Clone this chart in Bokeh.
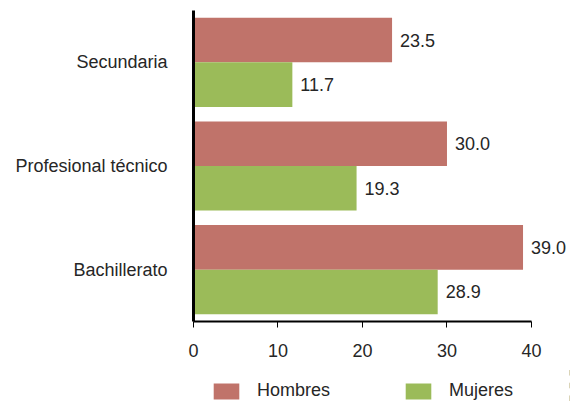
from bokeh.plotting import figure
from bokeh.layouts import column
from bokeh.models import ColumnDataSource, FactorRange, Range1d, Legend, LegendItem, FixedTicker
from bokeh.transform import dodge
from bokeh.core.properties import value
from bokeh.embed import file_html
from bokeh.resources import INLINE

categories = ["Secundaria", "Profesional técnico", "Bachillerato"]
hombres = [23.5, 30.0, 39.0]
mujeres = [11.7, 19.3, 28.9]
x_ticks = [0, 10, 20, 30, 40]
series_names = ["Hombres", "Mujeres"]

FONT = "Liberation Sans"
TXT = "#262626"
C_H = "#c0736a"
C_M = "#9bbb59"

src = ColumnDataSource(dict(
    cat=categories, h=hombres, m=mujeres,
    hl=["%.1f" % v for v in hombres], ml=["%.1f" % v for v in mujeres],
))

p = figure(width=571, height=366, output_backend="svg", toolbar_location=None,
           y_range=FactorRange(factors=categories[::-1]), x_range=Range1d(0, 44.5),
           min_border_left=193, min_border_right=2, min_border_top=10, min_border_bottom=45)
p.outline_line_color = None
p.grid.grid_line_color = None

bh = 0.43
p.hbar(y=dodge("cat", bh / 2, range=p.y_range), right="h", left=0, height=bh,
       source=src, fill_color=C_H, line_color=None)
p.hbar(y=dodge("cat", -bh / 2, range=p.y_range), right="m", left=0, height=bh,
       source=src, fill_color=C_M, line_color=None)

p.text(x="h", y=dodge("cat", bh / 2, range=p.y_range), text="hl", source=src,
       x_offset=8, text_baseline="middle", text_align="left",
       text_font=value(FONT), text_font_size="18px", text_color=TXT)
p.text(x="m", y=dodge("cat", -bh / 2, range=p.y_range), text="ml", source=src,
       x_offset=8, text_baseline="middle", text_align="left",
       text_font=value(FONT), text_font_size="18px", text_color=TXT)

xa = p.xaxis[0]
xa.ticker = FixedTicker(ticks=x_ticks)
xa.bounds = (0, 40)
xa.axis_line_color = "black"
xa.axis_line_width = 2
xa.major_tick_line_color = "black"
xa.major_tick_out = 6
xa.major_tick_in = 0
xa.minor_tick_line_color = None
xa.major_label_text_font = FONT
xa.major_label_text_font_size = "18px"
xa.major_label_text_color = TXT
xa.major_label_standoff = 16

ya = p.yaxis[0]
ya.axis_line_color = "black"
ya.axis_line_width = 3
ya.major_tick_line_color = None
ya.minor_tick_line_color = None
ya.major_label_text_font = FONT
ya.major_label_text_font_size = "18px"
ya.major_label_text_color = TXT
ya.major_label_standoff = 20

# legend strip: same bars, drawn outside its visible range, only the legend shows
lg = figure(width=571, height=38, output_backend="svg", toolbar_location=None,
            x_range=Range1d(-2, -1), y_range=FactorRange(factors=categories[::-1]),
            min_border_left=193, min_border_right=2, min_border_top=0, min_border_bottom=0)
lg.axis.visible = False
lg.grid.grid_line_color = None
lg.outline_line_color = None
lh = lg.hbar(y="cat", right="h", left=0, height=bh, source=src, fill_color=C_H, line_color=None)
lm = lg.hbar(y="cat", right="m", left=0, height=bh, source=src, fill_color=C_M, line_color=None)
legend = Legend(items=[LegendItem(label=series_names[0], renderers=[lh]),
                       LegendItem(label=series_names[1], renderers=[lm])],
                orientation="horizontal", location=(17, 3),
                glyph_width=32, glyph_height=20, label_standoff=15, spacing=72,
                label_text_font=FONT, label_text_font_size="18px", label_text_color=TXT,
                border_line_color=None, background_fill_alpha=0, padding=0, margin=0)
lg.add_layout(legend, "center")

layout = column(p, lg, spacing=0)
open("out.html", "w").write(file_html(layout, INLINE))
